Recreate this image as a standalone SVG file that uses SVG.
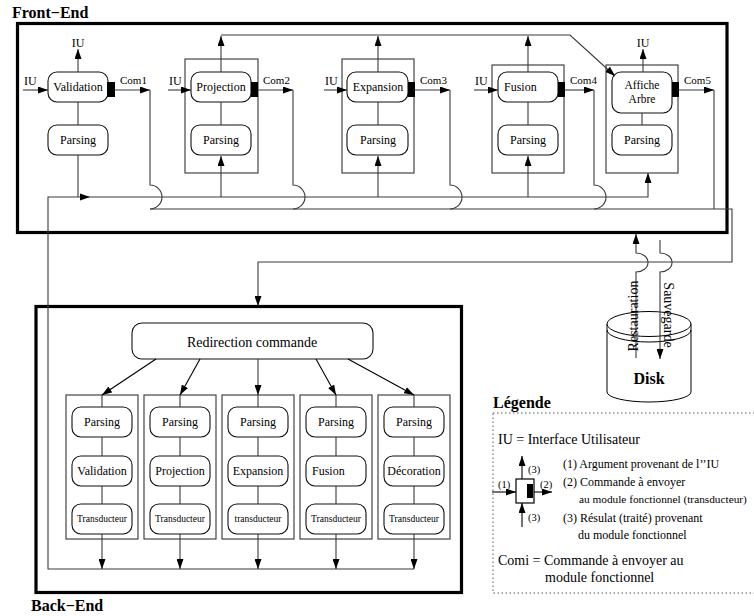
<svg xmlns="http://www.w3.org/2000/svg" width="754" height="616" viewBox="0 0 754 616">
<defs>
<marker id="ah" viewBox="0 0 10 7" refX="10" refY="3.5" markerWidth="10" markerHeight="7" markerUnits="userSpaceOnUse" orient="auto"><path d="M0,0 L10,3.5 L0,7 z" fill="#000"/></marker>
<style>
text{font-family:"Liberation Serif","Times New Roman",serif;fill:#000}
.t12{font-size:12px}
.t14{font-size:14px}
.com{font-size:11px}
.sm{font-size:9.5px}
.lg{font-size:10.5px}
.b16{font-size:16px;font-weight:bold}
.m{text-anchor:middle}
.frame{fill:none;stroke:#000;stroke-width:3.2}
.col{fill:none;stroke:#333;stroke-width:1.1}
.rr{fill:#fff;stroke:#111;stroke-width:1.1}
.tab{fill:#000}
.ln{fill:none;stroke:#3a3a3a;stroke-width:1.1}
.arr{fill:none;stroke:#3a3a3a;stroke-width:1.1;marker-end:url(#ah)}
.dk{fill:none;stroke:#000;stroke-width:1}
.dot{fill:none;stroke:#555;stroke-width:1;stroke-dasharray:1.5,2.5}
</style>
</defs>
<rect width="754" height="616" fill="#fff"/>

<g id="front-end">
<rect class="frame" x="17.5" y="23.5" width="709.5" height="209"/>
<text class="b16" x="12" y="18">Front−End</text>
</g>

<g id="back-end">
<rect class="frame" x="36" y="306.5" width="425.5" height="286"/>
<text class="b16" x="31" y="611">Back−End</text>
</g>

<g id="fe-validation">
<rect class="rr" x="48" y="72" width="60" height="30" rx="9"/>
<rect class="tab" x="107" y="82" width="8" height="15"/>
<text class="t12 m" x="78" y="91">Validation</text>
<rect class="rr" x="48" y="125" width="60" height="30" rx="9"/>
<text class="t12 m" x="78" y="144">Parsing</text>
</g>

<g id="fe-projection">
<rect class="col" x="185" y="59" width="73" height="114"/>
<rect class="rr" x="191" y="72" width="60" height="30" rx="9"/>
<rect class="tab" x="251" y="82" width="7" height="15"/>
<text class="t12 m" x="221" y="91">Projection</text>
<rect class="rr" x="191" y="125" width="60" height="30" rx="9"/>
<text class="t12 m" x="221" y="144">Parsing</text>
</g>

<g id="fe-expansion">
<rect class="col" x="342" y="59" width="72" height="114"/>
<rect class="rr" x="347" y="72" width="61" height="30" rx="9"/>
<rect class="tab" x="408" y="82" width="7" height="15"/>
<text class="t12 m" x="378" y="91">Expansion</text>
<rect class="rr" x="347" y="125" width="61" height="30" rx="9"/>
<text class="t12 m" x="378" y="144">Parsing</text>
</g>

<g id="fe-fusion">
<rect class="col" x="492" y="65" width="72" height="108"/>
<rect class="rr" x="498" y="72" width="60" height="30" rx="9"/>
<rect class="tab" x="558" y="82" width="7" height="15"/>
<text class="t12" x="504" y="91">Fusion</text>
<rect class="rr" x="498" y="125" width="60" height="30" rx="9"/>
<text class="t12 m" x="528" y="144">Parsing</text>
</g>

<g id="fe-affiche">
<rect class="col" x="606" y="65" width="72" height="108"/>
<rect class="rr" x="612" y="72" width="60" height="41" rx="9"/>
<rect class="tab" x="672" y="82" width="7" height="15"/>
<text class="m" style="font-size:11.5px" x="642" y="89">Affiche</text>
<text class="m" style="font-size:11.5px" x="642" y="103">Arbre</text>
<rect class="rr" x="612" y="125" width="60" height="30" rx="9"/>
<text class="t12 m" x="642" y="144">Parsing</text>
</g>

<g id="disk">
<path d="M607,324 V392 A42,10 0 0 0 691,392 V324" fill="#fff" stroke="#000" stroke-width="1"/>
<ellipse cx="649" cy="324" rx="42" ry="12.5" fill="#fff" stroke="#000" stroke-width="1"/>
<path class="dk" d="M607,330 A42,12 0 0 0 691,330"/>
<text class="b16 m" x="649" y="384">Disk</text>
</g>

<g id="redirection">
<rect class="rr" x="132" y="323" width="241" height="36" rx="10"/>
<text class="t14 m" x="252" y="347">Redirection commande</text>
</g>

<g id="be-validation">
<rect class="col" x="66" y="395" width="72" height="144"/>
<rect class="rr" x="72" y="407" width="60" height="30" rx="9"/>
<text class="t12 m" x="102" y="426">Parsing</text>
<rect class="rr" x="72" y="456" width="60" height="30" rx="9"/>
<text class="t12 m" x="102" y="475">Validation</text>
<rect class="rr" x="72" y="504" width="60" height="30" rx="9"/>
<text class="sm m" x="102" y="522">Transducteur</text>
</g>

<g id="be-projection">
<rect class="col" x="144" y="395" width="72" height="144"/>
<rect class="rr" x="150" y="407" width="60" height="30" rx="9"/>
<text class="t12 m" x="180" y="426">Parsing</text>
<rect class="rr" x="150" y="456" width="60" height="30" rx="9"/>
<text class="t12 m" x="180" y="475">Projection</text>
<rect class="rr" x="150" y="504" width="60" height="30" rx="9"/>
<text class="sm m" x="180" y="522">Transducteur</text>
</g>

<g id="be-expansion">
<rect class="col" x="222" y="395" width="72" height="144"/>
<rect class="rr" x="228" y="407" width="60" height="30" rx="9"/>
<text class="t12 m" x="258" y="426">Parsing</text>
<rect class="rr" x="228" y="456" width="60" height="30" rx="9"/>
<text class="t12 m" x="258" y="475">Expansion</text>
<rect class="rr" x="228" y="504" width="60" height="30" rx="9"/>
<text class="sm m" x="258" y="522">transducteur</text>
</g>

<g id="be-fusion">
<rect class="col" x="300" y="395" width="72" height="144"/>
<rect class="rr" x="306" y="407" width="60" height="30" rx="9"/>
<text class="t12 m" x="336" y="426">Parsing</text>
<rect class="rr" x="306" y="456" width="60" height="30" rx="9"/>
<text class="t12" x="312" y="475">Fusion</text>
<rect class="rr" x="306" y="504" width="60" height="30" rx="9"/>
<text class="sm m" x="336" y="522">Transducteur</text>
</g>

<g id="be-decoration">
<rect class="col" x="378" y="395" width="72" height="144"/>
<rect class="rr" x="384" y="407" width="60" height="30" rx="9"/>
<text class="t12 m" x="414" y="426">Parsing</text>
<rect class="rr" x="384" y="456" width="60" height="30" rx="9"/>
<text class="t12 m" x="414" y="475">Décoration</text>
<rect class="rr" x="384" y="504" width="60" height="30" rx="9"/>
<text class="sm m" x="414" y="522">Transducteur</text>
</g>

<g id="connectors">
<path class="arr" d="M23,90 H48"/>
<path class="arr" d="M168,90 H191"/>
<path class="arr" d="M324,90 H347"/>
<path class="arr" d="M474,90 H498"/>
<text class="t12" x="24" y="85">IU</text>
<text class="t12" x="169" y="85">IU</text>
<text class="t12" x="325" y="85">IU</text>
<text class="t12" x="475" y="85">IU</text>
<path class="arr" d="M78,72 V49"/>
<path class="arr" d="M643,72 V49"/>
<text class="t12 m" x="78" y="47">IU</text>
<text class="t12 m" x="643" y="47">IU</text>
<path class="arr" d="M115,90 H150"/>
<path class="arr" d="M258,90 H293"/>
<path class="arr" d="M415,90 H450"/>
<path class="arr" d="M565,90 H594"/>
<path class="arr" d="M679,90 H714"/>
<text class="com" x="120" y="84">Com1</text>
<text class="com" x="263" y="84">Com2</text>
<text class="com" x="420" y="84">Com3</text>
<text class="com" x="570" y="84">Com4</text>
<text class="com" x="684" y="84">Com5</text>
<path class="ln" d="M150,90 V185 A12,12 0 0 1 150,209"/>
<path class="ln" d="M293,90 V185 A12,12 0 0 1 293,209"/>
<path class="ln" d="M450,90 V185 A12,12 0 0 1 450,209"/>
<path class="ln" d="M594,90 V185 A12,12 0 0 1 594,209"/>
<path class="ln" d="M714,90 V209"/>
<path class="arr" d="M150,209 H732 V262 H258 V306"/>
<path class="ln" d="M78,102 V125 M78,155 V197"/>
<path class="ln" d="M221,102 V125 M378,102 V125 M528,102 V125 M642,113 V125"/>
<path class="arr" d="M221,72 V36"/>
<path class="arr" d="M378,72 V36"/>
<path class="arr" d="M528,72 V36"/>
<path class="arr" d="M221,35 H570 L615,76"/>
<path class="arr" d="M414,569 H48 V197 H648 V173"/>
<path d="M80,193.5 L90,197 L80,200.5 z" fill="#000"/>
<path class="arr" d="M221,197 V156"/>
<path class="arr" d="M378,197 V156"/>
<path class="arr" d="M528,197 V156"/>
<path class="arr" d="M636,358 V272 A12,9.5 0 0 0 636,253 V234"/>
<path class="arr" d="M660,240 V253 A12,9.5 0 0 1 660,272 V359"/>
<text class="t14 m" transform="translate(638,316) rotate(-90)">Restauration</text>
<text class="t14 m" transform="translate(664,315) rotate(90)">Sauvegarde</text>
<path class="arr" d="M156,359 L102,395" style="stroke:#000"/>
<path class="arr" d="M200,359 L180,395" style="stroke:#000"/>
<path class="arr" d="M258,359 V395"/>
<path class="arr" d="M316,359 L336,395" style="stroke:#000"/>
<path class="arr" d="M348,359 L414,395" style="stroke:#000"/>
<path class="ln" d="M102,395 V407 M102,437 V456 M102,486 V504"/>
<path class="ln" d="M180,395 V407 M180,437 V456 M180,486 V504"/>
<path class="ln" d="M258,395 V407 M258,437 V456 M258,486 V504"/>
<path class="ln" d="M336,395 V407 M336,437 V456 M336,486 V504"/>
<path class="ln" d="M414,395 V407 M414,437 V456 M414,486 V504"/>
<path class="arr" d="M102,534 V569"/>
<path class="arr" d="M180,534 V569"/>
<path class="arr" d="M258,534 V569"/>
<path class="arr" d="M336,534 V569"/>
<path class="arr" d="M414,534 V569"/>
</g>

<g id="legend">
<text class="b16" x="493" y="408">Légende</text>
<rect class="dot" x="493" y="413" width="275" height="180"/>
<text class="t14" x="498" y="444">IU = Interface Utilisateur</text>
<rect x="516" y="479" width="18" height="24" fill="#fff" stroke="#000" stroke-width="1.2"/>
<rect class="tab" x="527" y="484" width="6" height="14"/>
<path class="arr" d="M522,479 V456" style="stroke:#000"/>
<path class="arr" d="M522,527 V503" style="stroke:#000"/>
<path class="arr" d="M492,492 H516" style="stroke:#000"/>
<path class="arr" d="M534,492 H552" style="stroke:#000"/>
<text class="lg" x="528" y="473">(3)</text>
<text class="lg" x="498" y="488">(1)</text>
<text class="lg" x="540" y="488">(2)</text>
<text class="lg" x="528" y="521">(3)</text>
<text class="t12" x="563" y="468">(1) Argument provenant de l’’IU</text>
<text class="t12" x="563" y="486">(2) Commande à envoyer</text>
<text style="font-size:11.3px" x="579" y="503">au module fonctionnel (transducteur)</text>
<text class="t12" x="563" y="522">(3) Résulat (traité) provenant</text>
<text class="t12" x="578" y="539">du module fonctionnel</text>
<text class="t14" x="498" y="565">Comi = Commande à envoyer au</text>
<text class="t14" x="545" y="582">module fonctionnel</text>
</g>
</svg>
